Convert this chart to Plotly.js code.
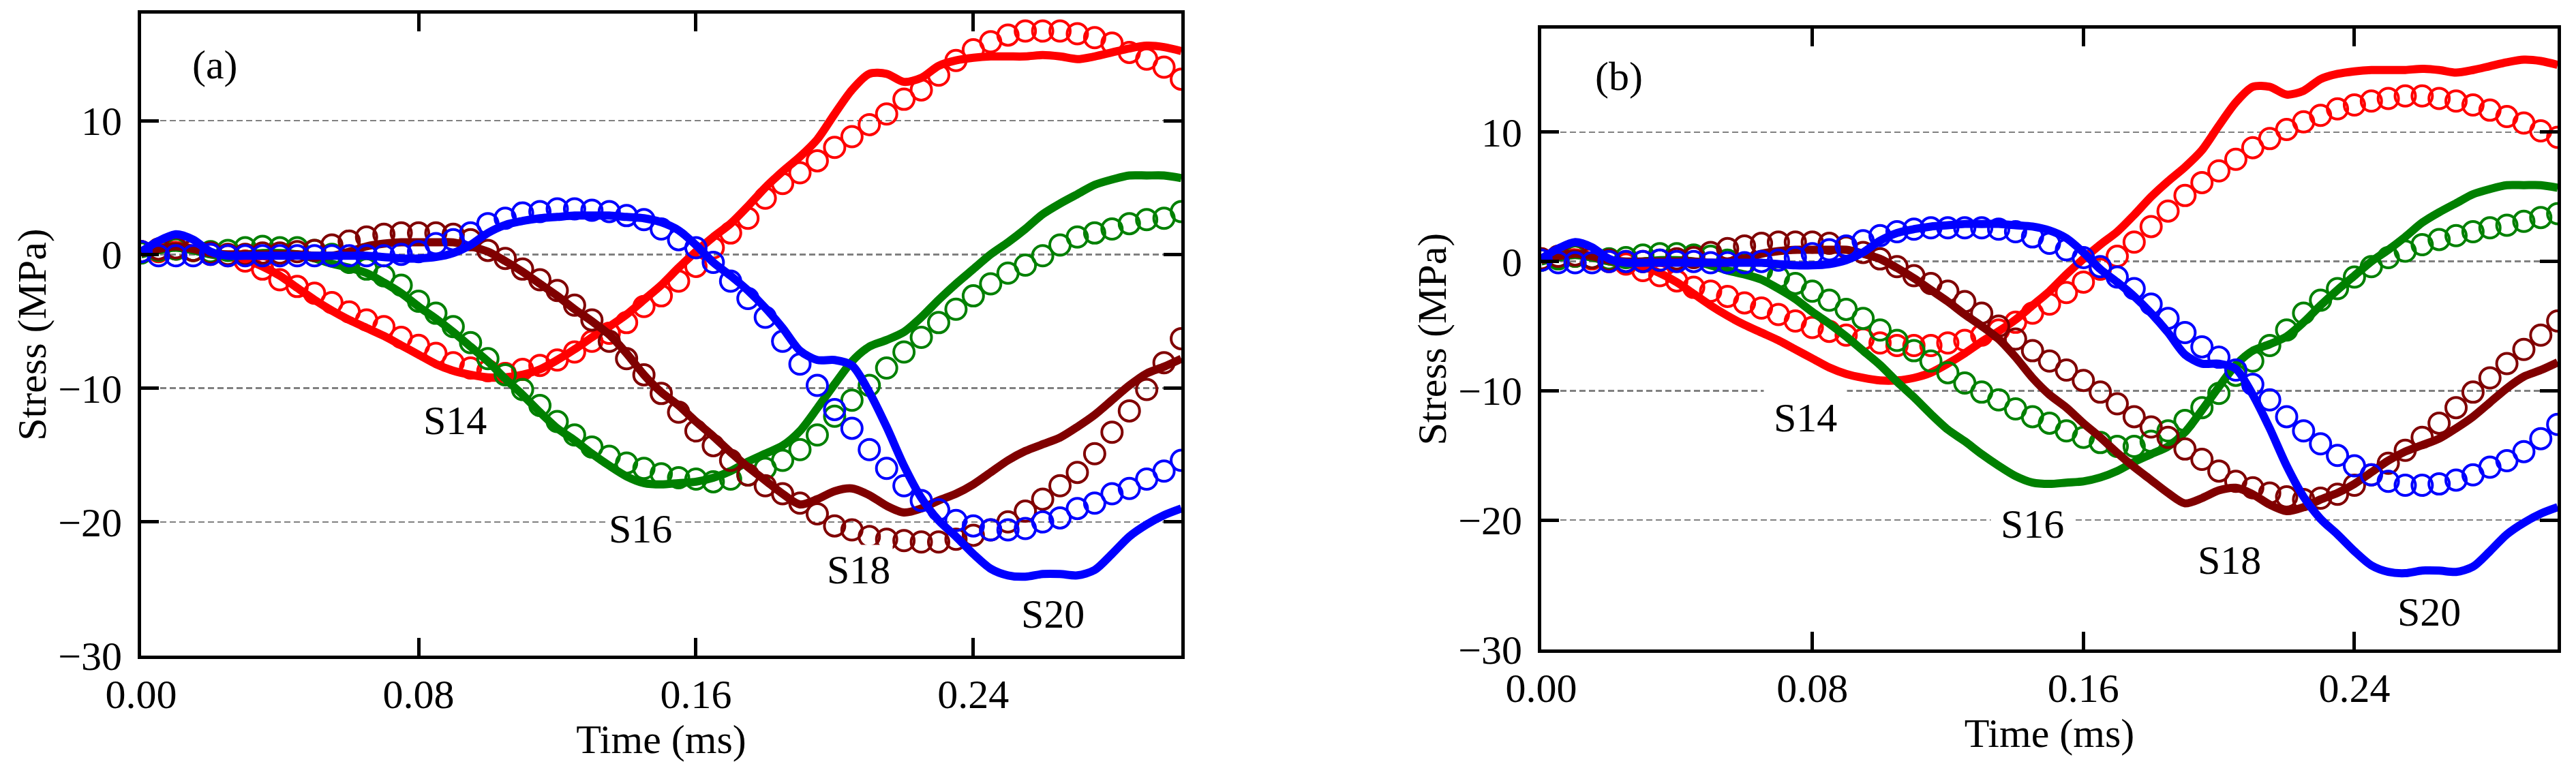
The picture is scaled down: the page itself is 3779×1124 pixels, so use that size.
<!DOCTYPE html>
<html>
<head>
<meta charset="utf-8">
<script src="https://cdn.plot.ly/plotly-3.0.1.min.js"></script>
<style>
  html, body { margin: 0; padding: 0; background: #fff; }
  #chart { width: 3779px; height: 1124px; }
</style>
</head>
<body>
<div id="chart"></div>
<script>
/* ── Data: stress histories at gauges S14–S20 ─────────────── */
const TIME = [0, 0.005, 0.01, 0.015, 0.02, 0.025, 0.03, 0.035, 0.04, 0.045,
  0.05, 0.055, 0.06, 0.065, 0.07, 0.075, 0.08, 0.085, 0.09, 0.095,
  0.1, 0.105, 0.11, 0.115, 0.12, 0.125, 0.13, 0.135, 0.14, 0.145,
  0.15, 0.155, 0.16, 0.165, 0.17, 0.175, 0.18, 0.185, 0.19, 0.195,
  0.2, 0.205, 0.21, 0.215, 0.22, 0.225, 0.23, 0.235, 0.24, 0.245,
  0.25, 0.255, 0.26, 0.265, 0.27, 0.275, 0.28, 0.285, 0.29, 0.295, 0.3];

const X_TICKS = [0, 0.08, 0.16, 0.24];
const X_TICKTEXT = ['0.00', '0.08', '0.16', '0.24'];
const Y_TICKS = [-30, -20, -10, 0, 10];
const GAUGES = ['S14', 'S16', 'S18', 'S20'];
const COLORS = ['#ff0000', '#008000', '#800000', '#0000ff'];

// solid curves (same in both panels)
const LINE_S14 = [0.2,0.5,0.7,0.4,0.0,-0.2,-0.4,-0.9,-1.6,-2.5,-3.4,-4.2,-4.9,-5.5,-6.1,-6.8,-7.5,-8.2,-8.7,-9.0,
  -9.2,-9.2,-9.0,-8.6,-7.9,-7.1,-6.2,-5.4,-4.5,-3.4,-2.3,-1.0,0.2,1.3,2.3,3.6,5.0,6.2,7.3,8.6,
  10.5,12.3,13.5,13.5,12.9,13.2,14.1,14.5,14.7,14.8,14.8,14.8,14.9,14.8,14.6,14.8,15.1,15.4,15.6,15.5,15.2];
const LINE_S16 = [0.0,0.3,0.5,0.3,0.0,-0.1,0.0,0.1,0.1,0.0,-0.3,-0.7,-1.0,-1.4,-2.1,-2.9,-3.9,-4.8,-5.8,-6.9,
  -8.0,-9.3,-10.5,-11.8,-13.0,-13.9,-14.9,-15.8,-16.6,-17.1,-17.2,-17.1,-17.0,-16.7,-16.2,-15.5,-14.9,-14.3,-13.2,-11.5,
  -9.7,-8.0,-6.9,-6.4,-5.8,-4.7,-3.4,-2.2,-1.1,0.0,0.9,1.9,3.0,3.8,4.5,5.2,5.6,5.9,5.9,5.9,5.7];
const LINE_S18 = [0.1,0.4,0.6,0.4,0.1,0.0,0.0,0.0,0.0,0.0,-0.1,-0.1,0.2,0.6,0.8,0.9,0.9,0.9,0.9,0.6,
  0.2,-0.5,-1.3,-2.2,-3.1,-4.1,-5.0,-6.0,-7.4,-9.0,-10.3,-11.3,-12.5,-13.6,-14.8,-15.9,-16.9,-17.9,-18.7,-18.3,
  -17.7,-17.5,-18.0,-18.8,-19.3,-19.0,-18.4,-17.9,-17.2,-16.3,-15.4,-14.7,-14.2,-13.7,-12.9,-12.0,-10.9,-9.8,-8.9,-8.4,-7.8];
const LINE_S20 = [0.2,1.0,1.5,1.1,0.2,-0.1,-0.1,-0.1,-0.1,-0.1,-0.1,-0.1,-0.1,-0.1,-0.2,-0.3,-0.3,-0.2,0.1,0.7,
  1.6,2.2,2.5,2.7,2.8,2.9,2.9,2.9,2.8,2.7,2.4,1.8,0.7,-0.6,-1.6,-2.7,-4.0,-5.5,-7.2,-7.9,
  -7.9,-8.3,-10.3,-12.9,-15.8,-18.2,-19.9,-21.1,-22.4,-23.5,-24.0,-24.1,-23.9,-23.9,-24.0,-23.6,-22.4,-21.1,-20.2,-19.5,-19.0];

// circles, panel (a)
const CIRC_A_S14 = [0.2,0.2,0.4,0.3,0.0,-0.1,-0.5,-1.1,-1.9,-2.4,-2.9,-3.6,-4.3,-4.9,-5.4,-6.2,-6.8,-7.4,-8.1,-8.5,
  -8.7,-8.9,-8.6,-8.3,-7.9,-7.3,-6.5,-5.9,-5.1,-3.9,-3.1,-2.0,-0.9,0.5,1.6,2.7,4.2,5.3,6.1,7.0,
  8.0,8.8,9.7,10.5,11.6,12.3,13.4,14.5,15.3,15.9,16.4,16.7,16.7,16.7,16.5,16.2,15.8,15.1,14.6,14.0,13.1];
const CIRC_A_S16 = [0.1,0.3,0.4,0.3,0.2,0.3,0.5,0.6,0.5,0.5,0.3,0.0,-0.6,-1.1,-1.6,-2.3,-3.5,-4.4,-5.4,-6.6,
  -7.8,-9.0,-10.1,-11.3,-12.5,-13.5,-14.4,-15.1,-15.6,-16.0,-16.4,-16.7,-16.8,-17.0,-16.8,-16.5,-16.0,-15.4,-14.6,-13.5,
  -12.1,-10.9,-9.8,-8.5,-7.3,-6.2,-5.1,-4.1,-3.1,-2.2,-1.4,-0.8,-0.1,0.7,1.3,1.6,1.9,2.3,2.6,2.7,3.2];
const CIRC_A_S18 = [0.2,0.4,0.5,0.3,0.1,0.0,0.0,0.1,0.1,0.2,0.3,0.7,1.0,1.3,1.5,1.6,1.6,1.6,1.5,1.1,
  0.3,-0.3,-1.1,-1.9,-2.7,-3.8,-4.9,-6.5,-7.8,-9.0,-10.4,-11.8,-13.2,-14.3,-15.4,-16.5,-17.3,-17.9,-18.6,-19.4,
  -20.3,-20.6,-21.1,-21.3,-21.4,-21.5,-21.5,-21.3,-21.0,-20.6,-20.0,-19.2,-18.3,-17.3,-16.3,-14.9,-13.3,-11.7,-10.1,-8.1,-6.3];
const CIRC_A_S20 = [0.2,-0.1,-0.1,-0.1,0.0,-0.1,-0.1,-0.1,-0.1,-0.1,-0.1,-0.1,-0.1,-0.1,-0.1,0.0,0.2,0.8,1.1,1.6,
  2.3,2.7,3.1,3.2,3.4,3.4,3.3,3.2,2.9,2.6,1.9,1.1,0.5,-0.6,-2.0,-3.3,-4.7,-6.5,-8.2,-9.8,
  -11.6,-13.0,-14.6,-16.0,-17.3,-18.4,-19.1,-19.9,-20.3,-20.6,-20.6,-20.5,-20.0,-19.7,-19.0,-18.6,-17.9,-17.5,-16.8,-16.2,-15.4];

// circles, panel (b)
const CIRC_B_S14 = [0.2,0.3,0.4,0.2,0.0,-0.2,-0.7,-1.1,-1.5,-2.0,-2.3,-2.7,-3.2,-3.6,-4.1,-4.6,-5.1,-5.4,-5.7,-6.0,
  -6.3,-6.5,-6.5,-6.5,-6.3,-6.1,-5.7,-5.3,-4.7,-4.0,-3.3,-2.4,-1.6,-0.6,0.4,1.5,2.7,3.9,5.1,6.1,
  7.0,7.9,8.8,9.5,10.2,10.8,11.3,11.8,12.1,12.4,12.6,12.8,12.8,12.6,12.4,12.1,11.7,11.2,10.7,10.1,9.6];
const CIRC_B_S16 = [0.1,0.2,0.4,0.3,0.2,0.3,0.5,0.6,0.6,0.5,0.4,0.1,-0.2,-0.7,-1.2,-1.7,-2.3,-3.0,-3.7,-4.4,
  -5.3,-6.1,-6.9,-7.7,-8.6,-9.4,-10.1,-10.7,-11.4,-12.0,-12.5,-13.1,-13.6,-14.0,-14.3,-14.3,-13.9,-13.1,-12.3,-11.3,
  -10.2,-8.8,-7.7,-6.5,-5.3,-4.0,-3.0,-2.1,-1.2,-0.4,0.3,0.8,1.3,1.7,2.0,2.3,2.6,2.8,3.1,3.4,3.7];
const CIRC_B_S18 = [0.2,0.4,0.5,0.3,0.1,0.0,0.0,0.1,0.2,0.3,0.7,1.0,1.2,1.4,1.5,1.5,1.5,1.4,1.1,0.7,
  0.2,-0.4,-1.1,-1.7,-2.3,-3.1,-4.0,-5.0,-6.0,-6.9,-7.7,-8.4,-9.2,-10.1,-11.0,-12.0,-12.8,-13.6,-14.5,-15.3,
  -16.2,-17.0,-17.5,-17.9,-18.2,-18.4,-18.3,-18.0,-17.3,-16.5,-15.6,-14.6,-13.6,-12.5,-11.3,-10.1,-9.0,-7.9,-6.8,-5.7,-4.6];
const CIRC_B_S20 = [0.1,-0.1,-0.1,-0.1,0.0,0.0,0.0,0.1,0.0,0.0,-0.1,-0.1,-0.1,0.0,0.1,0.3,0.6,0.9,1.2,1.6,
  2.0,2.3,2.5,2.6,2.6,2.6,2.6,2.5,2.3,1.9,1.4,0.9,0.3,-0.4,-1.2,-2.1,-3.3,-4.4,-5.5,-6.6,
  -7.4,-8.4,-9.5,-10.7,-12.0,-13.1,-14.1,-15.0,-15.8,-16.5,-17.0,-17.3,-17.3,-17.2,-16.9,-16.5,-15.9,-15.4,-14.7,-13.7,-12.6];

// label anchors (data coords)
const LABEL_A_X = [0.0905, 0.144, 0.207, 0.263];
const LABEL_A_Y = [-12.4, -20.5, -23.6, -26.9];
const LABEL_B_X = [0.078, 0.145, 0.203, 0.262];
const LABEL_B_Y = [-12.1, -20.3, -23.1, -27.1];

/* ── Styling ──────────────────────────────────────────────── */
const FONT = 'Liberation Serif, Times New Roman, serif';
const LINES = [LINE_S14, LINE_S16, LINE_S18, LINE_S20];
const CIRC_A = [CIRC_A_S14, CIRC_A_S16, CIRC_A_S18, CIRC_A_S20];
const CIRC_B = [CIRC_B_S14, CIRC_B_S16, CIRC_B_S18, CIRC_B_S20];

function panelTraces(circles, xa, ya) {
  const out = [];
  GAUGES.forEach((g, i) => {
    out.push({
      x: TIME, y: LINES[i], xaxis: xa, yaxis: ya, name: g + ' sim',
      mode: 'lines', line: { color: COLORS[i], width: 12, shape: 'spline', smoothing: 0.8 },
      showlegend: false, hoverinfo: 'skip'
    });
    out.push({
      x: TIME, y: circles[i], xaxis: xa, yaxis: ya, name: g + ' exp',
      mode: 'markers',
      marker: { symbol: 'circle-open', size: 30, color: COLORS[i], line: { width: 4, color: COLORS[i] } },
      showlegend: false, hoverinfo: 'skip'
    });
  });
  return out;
}

function xAxis(domain, anchor) {
  return {
    domain: domain, anchor: anchor, range: [0, 0.3],
    tickvals: X_TICKS, ticktext: X_TICKTEXT,
    ticks: 'inside', ticklen: 26, tickwidth: 5, tickcolor: '#000',
    showline: true, linewidth: 5, linecolor: '#000', mirror: 'ticks',
    showgrid: false, zeroline: false, ticklabelstandoff: 0,
    tickfont: { family: FONT, size: 60, color: '#000' },
    title: { text: 'Time (ms)', font: { family: FONT, size: 60, color: '#000' }, standoff: 4 }
  };
}
function yAxis(domain, anchor) {
  return {
    domain: domain, anchor: anchor, range: [-30, 18],
    tickvals: Y_TICKS,
    ticks: 'inside', ticklen: 26, tickwidth: 5, tickcolor: '#000',
    showline: true, linewidth: 5, linecolor: '#000', mirror: 'ticks',
    showgrid: true, gridcolor: '#808080', gridwidth: 2.5, griddash: '9px,5px',
    zeroline: false, ticklabelstandoff: 11,
    tickfont: { family: FONT, size: 60, color: '#000' },
    title: { text: 'Stress (MPa)', font: { family: FONT, size: 60, color: '#000' }, standoff: 0 }
  };
}

function labels(xs, ys, xr, yr, pad) {
  return GAUGES.map((g, i) => ({
    x: xs[i], y: ys[i], xref: xr, yref: yr, text: g, showarrow: false,
    font: { family: FONT, size: 60, color: '#000' },
    bgcolor: '#fff', borderpad: pad
  }));
}

const traces = panelTraces(CIRC_A, 'x', 'y').concat(panelTraces(CIRC_B, 'x2', 'y2'));

const layout = {
  width: 3779, height: 1124,
  margin: { l: 0, r: 0, t: 0, b: 0 },
  paper_bgcolor: '#fff', plot_bgcolor: '#fff',
  showlegend: false,
  xaxis: xAxis([0.0548, 0.4586], 'y'),
  yaxis: yAxis([0.1441, 0.9822], 'x'),
  xaxis2: xAxis([0.5983, 0.9929], 'y2'),
  yaxis2: yAxis([0.1521, 0.9626], 'x2'),
  annotations: [
    { x: 0.0214, y: 14.2, xref: 'x', yref: 'y', text: '(a)', showarrow: false,
      font: { family: FONT, size: 60, color: '#000' } },
    { x: 0.0229, y: 14.3, xref: 'x2', yref: 'y2', text: '(b)', showarrow: false,
      font: { family: FONT, size: 60, color: '#000' } }
  ].concat(labels(LABEL_A_X, LABEL_A_Y, 'x', 'y', 3))
   .concat(labels(LABEL_B_X, LABEL_B_Y, 'x2', 'y2', 14))
};

Plotly.newPlot('chart', traces, layout, { staticPlot: true, displayModeBar: false });
</script>
</body>
</html>
